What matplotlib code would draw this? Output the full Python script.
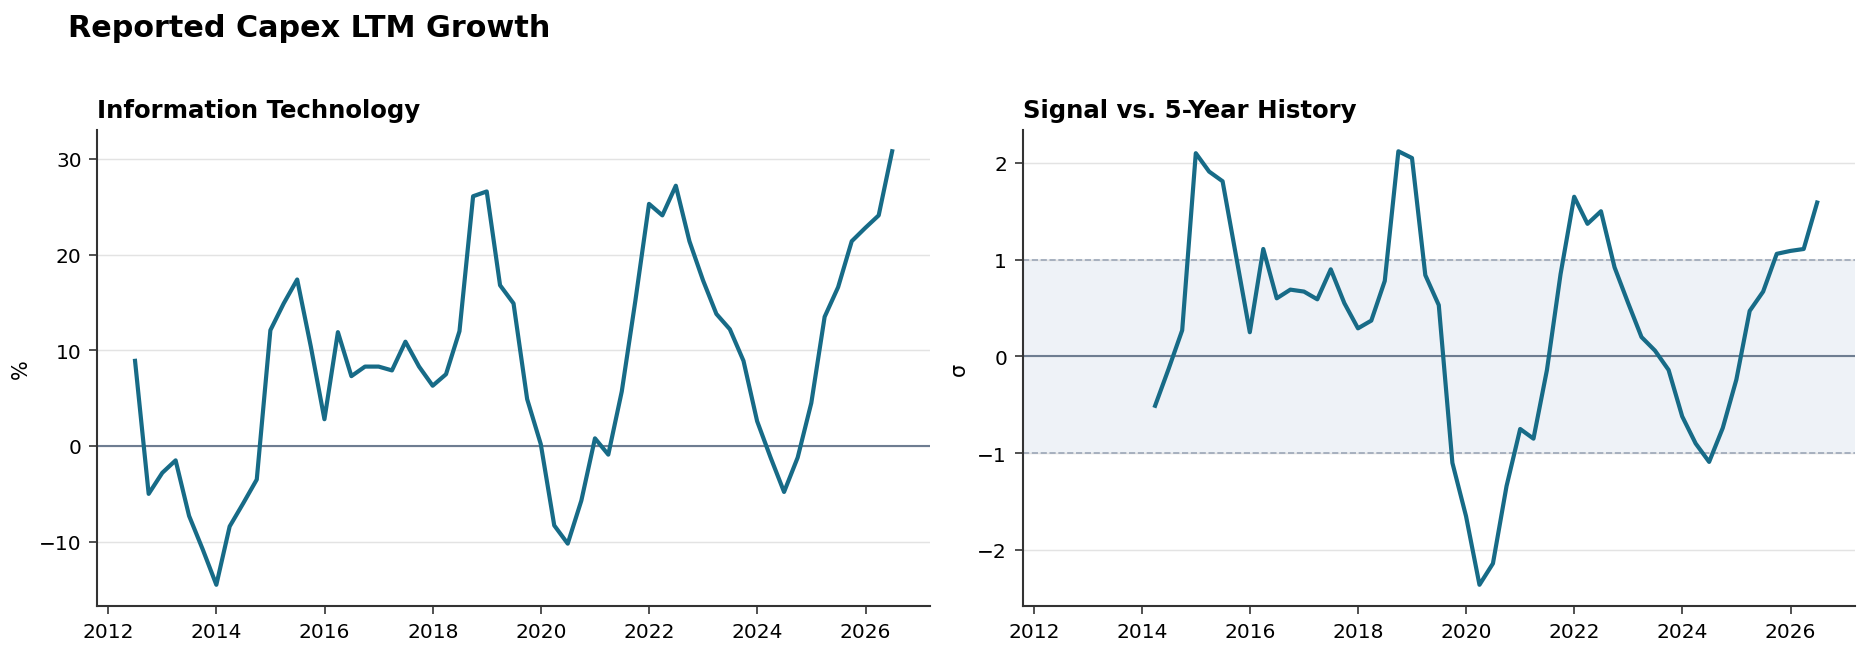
import pandas as pd
import matplotlib
matplotlib.use("Agg")
import matplotlib.pyplot as plt

# quarterly LTM capex growth, Information Technology (%)
growth_dates = pd.date_range("2012-06-30", "2026-06-30", freq="QE")
growth = [8.9, -5.0, -2.8,
          -1.5, -7.3, -10.8, -14.5,
          -8.4, -6.0, -3.5, 12.1,
          14.9, 17.4, 10.4, 2.8,
          11.9, 7.3, 8.3, 8.3,
          7.9, 10.9, 8.3, 6.3,
          7.5, 12.0, 26.1, 26.6,
          16.8, 14.9, 4.9, 0.2,
          -8.3, -10.2, -5.7, 0.8,
          -0.9, 5.7, 15.2, 25.3,
          24.1, 27.2, 21.4, 17.3,
          13.8, 12.2, 8.9, 2.6,
          -1.2, -4.8, -1.2, 4.5,
          13.5, 16.6, 21.4, 22.8,
          24.1, 30.8]

# z-score of the signal vs. trailing 5 years
z_dates = pd.date_range("2014-03-31", "2026-06-30", freq="QE")
zscore = [-0.51, -0.13, 0.27, 2.10,
          1.91, 1.81, 1.03, 0.25,
          1.11, 0.60, 0.69, 0.67,
          0.59, 0.90, 0.55, 0.29,
          0.37, 0.78, 2.12, 2.05,
          0.84, 0.53, -1.10, -1.65,
          -2.36, -2.14, -1.34, -0.75,
          -0.85, -0.14, 0.85, 1.65,
          1.37, 1.50, 0.92, 0.55,
          0.20, 0.06, -0.14, -0.62,
          -0.90, -1.09, -0.74, -0.24,
          0.47, 0.67, 1.06, 1.09,
          1.11, 1.59]

LINE = "#176b87"
ZERO = "#6e7d91"
GRID = "#e3e3e3"


def style_axis(ax):
    ax.spines["top"].set_visible(False)
    ax.spines["right"].set_visible(False)
    for s in ("left", "bottom"):
        ax.spines[s].set_color("#333333")
        ax.spines[s].set_linewidth(1.0)
    ax.grid(axis="y", color=GRID, linewidth=0.7)
    ax.set_axisbelow(True)
    ax.tick_params(labelsize=9.7, color="#333333", length=4)


fig = plt.figure(figsize=(12.46, 4.373), dpi=150)
ax1 = fig.add_axes([0.052, 0.074, 0.4456, 0.727])
ax2 = fig.add_axes([0.5472, 0.074, 0.4453, 0.727], sharex=ax1)

style_axis(ax1)
ax1.axhline(0, color=ZERO, linewidth=1.0, zorder=1)
ax1.plot(growth_dates, growth, color=LINE, linewidth=2.0, zorder=3)
ax1.set_ylabel("%", fontsize=10)
ax1.set_title("Information Technology", loc="left", fontsize=11.7,
              fontweight="bold", pad=6)

style_axis(ax2)
ax2.axhspan(-1, 1, color="#eef2f7", zorder=0)
ax2.axhline(1, color="#9ba6b7", linewidth=0.8, linestyle="--", zorder=1)
ax2.axhline(-1, color="#9ba6b7", linewidth=0.8, linestyle="--", zorder=1)
ax2.axhline(0, color=ZERO, linewidth=1.0, zorder=1)
ax2.plot(z_dates, zscore, color=LINE, linewidth=2.0, zorder=3)
ax2.set_ylabel("σ", fontsize=10)
ax2.set_title("Signal vs. 5-Year History", loc="left", fontsize=11.7,
              fontweight="bold", pad=6)
ax2.tick_params(labelleft=True)

fig.text(0.0364, 0.944, "Reported Capex LTM Growth", fontsize=14.5,
         fontweight="bold", ha="left", va="baseline")

fig.savefig("out.png", dpi=150)
